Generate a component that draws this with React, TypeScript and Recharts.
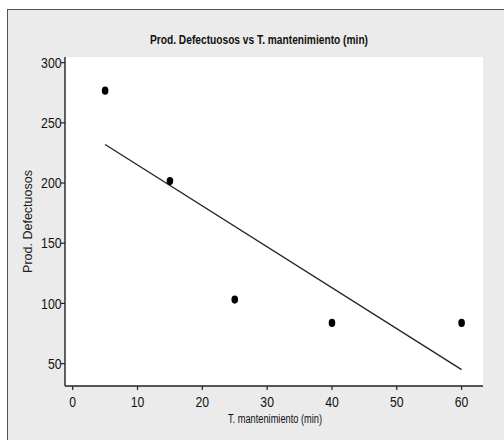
import React from 'react';
import { ScatterChart, Scatter, XAxis, YAxis, CartesianGrid } from 'recharts';

const tiempo = [5, 15, 25, 40, 60];
const defectuosos = [276.7, 201.6, 103.2, 83.8, 83.8];
const ajusteX = [5, 60];
const ajusteY = [232, 45];
const xTicks = [0, 10, 20, 30, 40, 50, 60];
const yTicks = [50, 100, 150, 200, 250, 300];
const titulo = 'Prod. Defectuosos vs T. mantenimiento (min)';
const xLabel = 'T. mantenimiento (min)';
const yLabel = 'Prod. Defectuosos';

const points = tiempo.map((x, i) => ({ x, y: defectuosos[i] }));
const fitLine = ajusteX.map((x, i) => ({ x, y: ajusteY[i] }));

const FONT = "'Liberation Sans', Arial, sans-serif";
const X_DOMAIN: [number, number] = [-1.19, 63.3];
const Y_DOMAIN: [number, number] = [31.4, 304.7];

const Dot = (props: any) => {
  const { cx, cy } = props;
  if (cx == null || cy == null) return <g />;
  return <ellipse cx={cx} cy={cy} rx={3.3} ry={4.1} fill="#000" />;
};

const NoDot = () => <g />;

const YTick = (props: any) => {
  const { x, y, payload } = props;
  const s = String(payload.value);
  return (
    <text
      x={x + 0.5}
      y={y + 5.2}
      textAnchor="end"
      fontFamily={FONT}
      fontSize={14.5}
      fill="#111"
      textLength={s.length * 6.8}
      lengthAdjust="spacingAndGlyphs"
    >
      {s}
    </text>
  );
};

const XTick = (props: any) => {
  const { x, y, payload } = props;
  const s = String(payload.value);
  return (
    <text
      x={x}
      y={y + 16.7}
      textAnchor="middle"
      fontFamily={FONT}
      fontSize={14.5}
      fill="#111"
      textLength={s.length * 6.8}
      lengthAdjust="spacingAndGlyphs"
    >
      {s}
    </text>
  );
};

export default function App() {
  return (
    <div style={{ position: 'absolute', left: 0, top: 0, width: 504, height: 440, background: '#fff', overflow: 'hidden' }}>
      <div
        style={{
          position: 'absolute',
          left: 7,
          top: 9,
          width: 520,
          height: 460,
          border: '1.5px solid #555',
          background: '#ebebeb',
          boxSizing: 'border-box',
        }}
      />
      <div style={{ position: 'absolute', left: 0, top: 0 }}>
        <ScatterChart width={504} height={440} margin={{ top: 57, right: 21, bottom: 0, left: 0 }}>
          <CartesianGrid xAxisId="x" yAxisId="y" fill="#ffffff" horizontal={false} vertical={false} stroke="none" />
          <XAxis
            xAxisId="x"
            dataKey="x"
            type="number"
            domain={X_DOMAIN}
            ticks={xTicks}
            height={54}
            allowDataOverflow
            axisLine={{ stroke: '#222', strokeWidth: 1.4 }}
            tickLine={{ stroke: '#222', strokeWidth: 1.2 }}
            tickSize={4}
            tickMargin={0}
            tick={XTick}
          />
          <XAxis
            xAxisId="top"
            orientation="top"
            type="number"
            domain={X_DOMAIN}
            height={0}
            tick={false}
            tickLine={false}
            axisLine={{ stroke: '#222', strokeWidth: 1.4 }}
          />
          <YAxis
            yAxisId="y"
            dataKey="y"
            type="number"
            domain={Y_DOMAIN}
            ticks={yTicks}
            width={65}
            allowDataOverflow
            axisLine={{ stroke: '#222', strokeWidth: 1.4 }}
            tickLine={{ stroke: '#222', strokeWidth: 1.2 }}
            tickSize={4}
            tickMargin={0}
            tick={YTick}
          />
          <YAxis
            yAxisId="right"
            orientation="right"
            type="number"
            domain={Y_DOMAIN}
            width={0}
            tick={false}
            tickLine={false}
            axisLine={{ stroke: '#222', strokeWidth: 1.4 }}
          />
          <Scatter
            xAxisId="x"
            yAxisId="y"
            data={fitLine}
            line={{ stroke: '#222', strokeWidth: 1.3 }}
            shape={NoDot}
            isAnimationActive={false}
          />
          <Scatter xAxisId="x" yAxisId="y" data={points} shape={Dot} isAnimationActive={false} />
        </ScatterChart>
      </div>
      <svg
        width={504}
        height={440}
        style={{ position: 'absolute', left: 0, top: 0, pointerEvents: 'none' }}
      >
        <text
          x={259}
          y={44}
          textAnchor="middle"
          fontFamily={FONT}
          fontSize={12.5}
          fontWeight="bold"
          fill="#111"
          textLength={218}
          lengthAdjust="spacingAndGlyphs"
        >
          {titulo}
        </text>
        <text
          x={275}
          y={423}
          textAnchor="middle"
          fontFamily={FONT}
          fontSize={12.5}
          fill="#111"
          textLength={94}
          lengthAdjust="spacingAndGlyphs"
        >
          {xLabel}
        </text>
        <text
          x={31.5}
          y={221.5}
          textAnchor="middle"
          fontFamily={FONT}
          fontSize={12.5}
          fill="#222"
          transform="rotate(-90, 31.5, 221.5)"
        >
          {yLabel}
        </text>
      </svg>
    </div>
  );
}
